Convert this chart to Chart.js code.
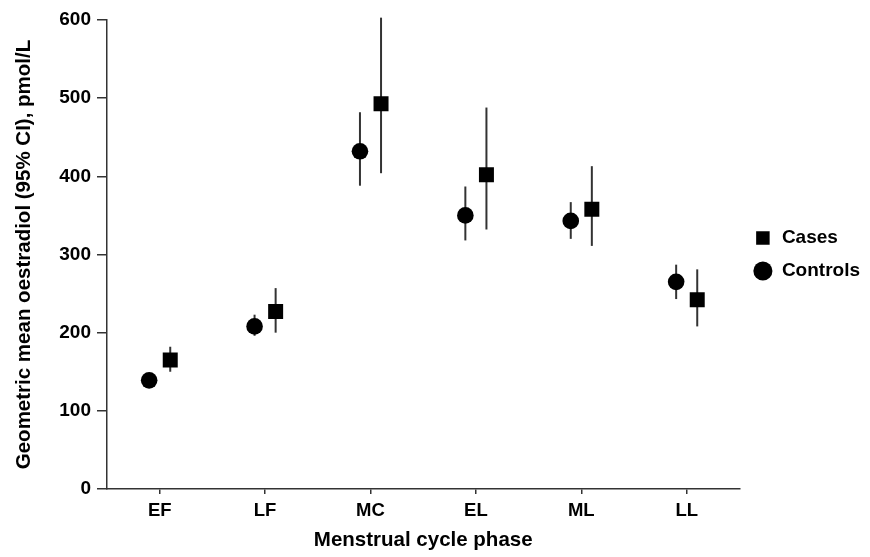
<!DOCTYPE html>
<html>
<head>
<meta charset="utf-8">
<script src="https://cdn.jsdelivr.net/npm/chart.js@4.4.1/dist/chart.umd.min.js"></script>
<style>
  html, body { margin: 0; padding: 0; background: #fff; }
  #wrap { width: 870px; height: 557px; position: relative; }
</style>
</head>
<body>
<div id="wrap"><canvas id="chart"></canvas></div>
<script>
const PHASES = ["EF", "LF", "MC", "EL", "ML", "LL"];
const Y_TICKS = [0, 100, 200, 300, 400, 500, 600];

const CASES_MEAN = [165, 227, 493, 402, 358, 242];
const CASES_LO = [150, 200, 404, 332, 311, 208];
const CASES_HI = [182, 257, 603, 488, 413, 281];

const CONTROLS_MEAN = [139, 208, 432, 350, 343, 265];
const CONTROLS_LO = [133, 196, 388, 318, 320, 243];
const CONTROLS_HI = [146, 223, 482, 387, 367, 287];

const SHIFT = 0.1;
const FONT = "'Liberation Sans', Arial, sans-serif";

function points(means, dx) {
  return means.map((v, i) => ({ x: i + dx, y: v }));
}

// vertical CI lines, drawn under the markers
const errorBars = {
  id: "errorBars",
  beforeDatasetsDraw(chart) {
    const { ctx, scales: { x, y } } = chart;
    ctx.save();
    ctx.strokeStyle = "#333";
    ctx.lineWidth = 2;
    chart.data.datasets.forEach(ds => {
      ds.data.forEach((p, i) => {
        const px = x.getPixelForValue(p.x);
        ctx.beginPath();
        ctx.moveTo(px, y.getPixelForValue(ds.lo[i]));
        ctx.lineTo(px, y.getPixelForValue(ds.hi[i]));
        ctx.stroke();
      });
    });
    ctx.restore();
  }
};

const ctx = document.getElementById("chart").getContext("2d");
new Chart(ctx, {
  type: "scatter",
  data: {
    datasets: [
      {
        label: "Cases",
        data: points(CASES_MEAN, SHIFT),
        lo: CASES_LO,
        hi: CASES_HI,
        pointStyle: "rect",
        pointRadius: 10.6,
        backgroundColor: "#000",
        borderColor: "#000",
        borderWidth: 0
      },
      {
        label: "Controls",
        data: points(CONTROLS_MEAN, -SHIFT),
        lo: CONTROLS_LO,
        hi: CONTROLS_HI,
        pointStyle: "circle",
        pointRadius: 8.3,
        backgroundColor: "#000",
        borderColor: "#000",
        borderWidth: 0
      }
    ]
  },
  options: {
    responsive: true,
    maintainAspectRatio: false,
    animation: false,
    layout: { padding: { top: 20, right: 0, left: 0, bottom: 0 } },
    plugins: {
      tooltip: { enabled: false },
      legend: {
        position: "right",
        fullSize: false,
        labels: {
          usePointStyle: true,
          boxHeight: 13.5,
          padding: 14,
          color: "#000",
          font: { family: FONT, size: 19, weight: "bold" }
        }
      }
    },
    scales: {
      x: {
        type: "linear",
        min: -0.5,
        max: 5.5,
        afterBuildTicks: axis => { axis.ticks = PHASES.map((p, i) => ({ value: i })); },
        afterFit: axis => { axis.height = 68; },
        ticks: {
          color: "#000",
          padding: 6,
          font: { family: FONT, size: 18.5, weight: "bold" },
          callback: v => PHASES[v]
        },
        grid: { display: true, drawOnChartArea: false, drawTicks: true, tickLength: 5, color: "#333", lineWidth: 1.5 },
        border: { display: true, color: "#333", width: 1.5 },
        title: {
          display: true,
          text: "Menstrual cycle phase",
          color: "#000",
          padding: { top: 2 },
          font: { family: FONT, size: 20.5, weight: "bold" }
        }
      },
      y: {
        min: 0,
        max: 600,
        afterBuildTicks: axis => { axis.ticks = Y_TICKS.map(v => ({ value: v })); },
        afterFit: axis => { axis.width = 107; },
        ticks: {
          color: "#000",
          padding: 6,
          font: { family: FONT, size: 19, weight: "bold" }
        },
        grid: { display: true, drawOnChartArea: false, drawTicks: true, tickLength: 10, color: "#333", lineWidth: 1.5 },
        border: { display: true, color: "#333", width: 1.5 },
        title: {
          display: true,
          text: "Geometric mean oestradiol (95% CI), pmol/L",
          color: "#000",
          padding: { top: 12, bottom: 0 },
          font: { family: FONT, size: 20.5, weight: "bold" }
        }
      }
    }
  },
  plugins: [errorBars]
});
</script>
</body>
</html>
